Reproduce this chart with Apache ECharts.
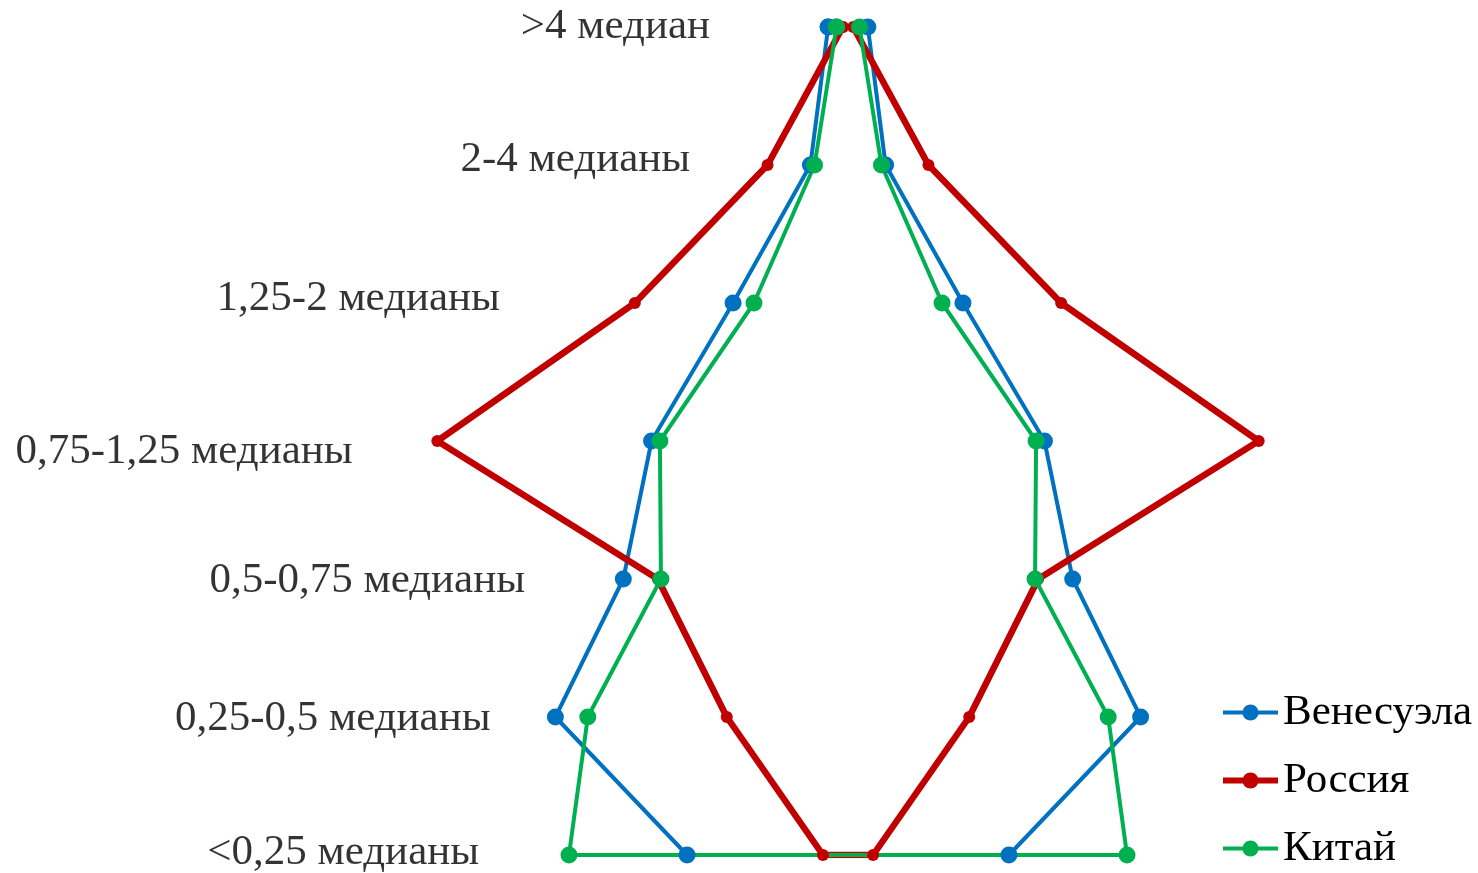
<!DOCTYPE html>
<html lang="ru">
<head>
    <meta charset="UTF-8">
    <title>Распределение по доходам</title>
    <script src="https://cdn.jsdelivr.net/npm/echarts@6/dist/echarts.min.js"></script>
    <style>
        html, body { margin: 0; padding: 0; background: #fff; }
        #main { width: 1478px; height: 873px; }
    </style>
</head>
<body>
<div id="main"></div>
<script>
    // группы доходов (сверху вниз)
    var categories = ['>4 медиан', '2-4 медианы', '1,25-2 медианы', '0,75-1,25 медианы',
                      '0,5-0,75 медианы', '0,25-0,5 медианы', '<0,25 медианы'];
    // доля населения в группе, % (рисуется зеркально влево и вправо)
    var venezuela = [1.9, 3.6, 11.0, 18.8, 21.5, 28.0, 15.4];
    var russia    = [0.5, 7.7, 20.4, 39.3, 18.2, 11.6, 2.4];
    var china     = [1.1, 3.2, 9.0, 18.0, 17.9, 24.9, 26.7];
    // где кончаются подписи групп слева (в тех же единицах, что и ось x)
    var labelX = [-13.2, -15.1, -33.3, -47.4, -30.9, -34.2, -35.3];

    var FONT = '"Liberation Serif", "DejaVu Serif", serif';
    var labelShift = [0, -5, -4, 11, 2, 2, -2];   // небольшой сдвиг подписей по вертикали, px

    // замкнутый контур: левая сторона сверху вниз, правая снизу вверх
    function mirror(vals) {
        var pts = [];
        for (var i = 0; i < vals.length; i++) pts.push([-vals[i], i]);
        for (var j = vals.length - 1; j >= 0; j--) pts.push([vals[j], j]);
        pts.push([-vals[0], 0]);
        return pts;
    }

    function lineSeries(name, vals, color, width, symSize) {
        return {
            name: name,
            type: 'line',
            data: mirror(vals),
            symbol: 'circle',
            symbolSize: symSize,
            showAllSymbol: true,
            lineStyle: { color: color, width: width },
            itemStyle: { color: color },
            emphasis: { disabled: true }
        };
    }

    var chart = echarts.init(document.getElementById('main'));
    var option = {
        animation: false,
        grid: { left: 12, right: 3, top: 27, bottom: 18 },
        xAxis: {
            type: 'value', min: -80, max: 60,
            show: false
        },
        yAxis: {
            type: 'category', data: categories,
            inverse: true, boundaryGap: false,
            show: false
        },
        legend: {
            data: [
                { name: 'Венесуэла', lineStyle: { width: 4 } },
                { name: 'Россия', lineStyle: { width: 6 } },
                { name: 'Китай', lineStyle: { width: 4 } }
            ],
            orient: 'vertical',
            left: 1220,
            top: 691,
            padding: 0,
            itemWidth: 55,
            itemHeight: 20,
            itemGap: 25,
            textStyle: { fontFamily: FONT, fontSize: 43, color: '#000' }
        },
        series: [
            lineSeries('Венесуэла', venezuela, '#0070C0', 4, 17),
            lineSeries('Россия', russia, '#C00000', 6.5, 12),
            lineSeries('Китай', china, '#00B050', 4, 17),
            {
                type: 'scatter',
                symbolSize: 0,
                silent: true,
                data: labelX.map(function (x, i) {
                    return { value: [x, i], label: { offset: [0, labelShift[i]] } };
                }),
                label: {
                    show: true,
                    position: 'left',
                    distance: 0,
                    formatter: function (p) { return categories[p.value[1]]; },
                    fontFamily: FONT,
                    fontSize: 43,
                    color: '#000'
                }
            }
        ]
    };
    chart.setOption(option);
</script>
</body>
</html>
